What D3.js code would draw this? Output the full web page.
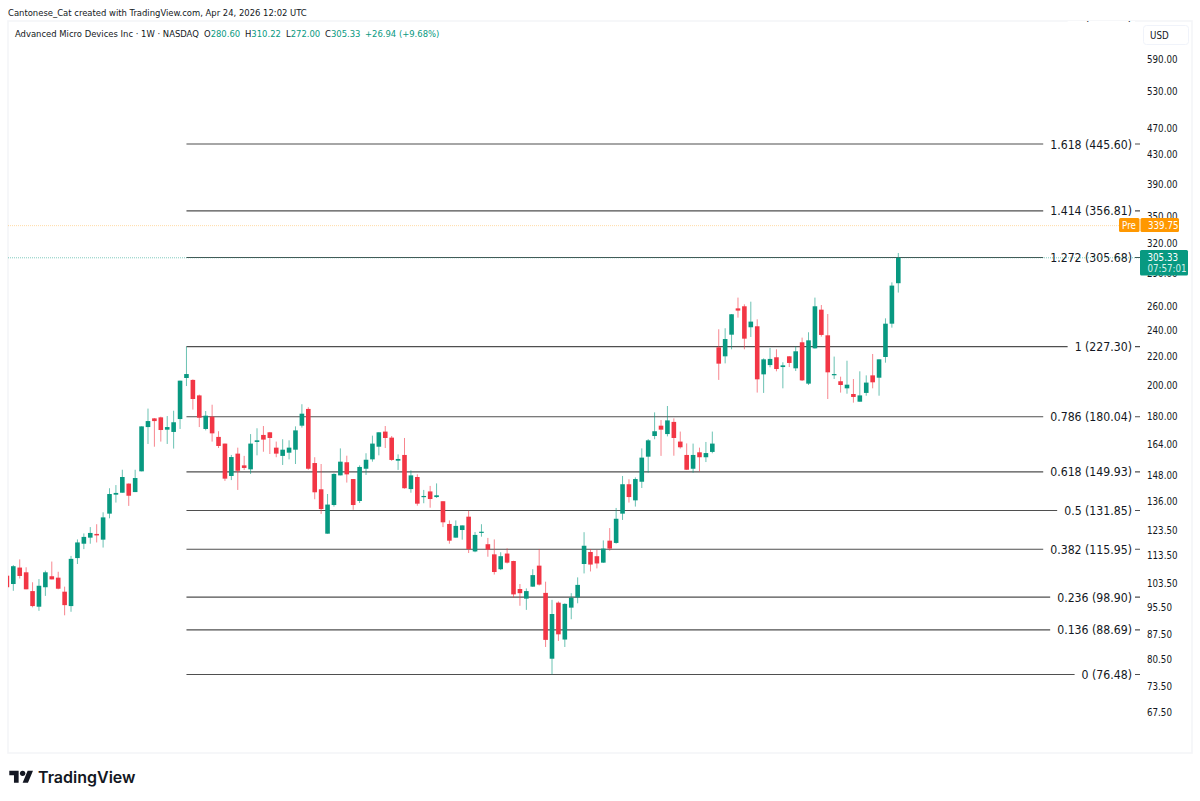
<!DOCTYPE html>
<html>
<head>
<meta charset="utf-8">
<script src="https://cdn.jsdelivr.net/npm/d3@7"></script>
<style>
  html, body { margin: 0; background: #fff; }
  svg { display: block; }
  text { font-family: 'DejaVu Sans Condensed', 'DejaVu Sans', sans-serif; fill: #131722; }
</style>
</head>
<body>
<svg id="chart" width="1200" height="801"></svg>
<script>
// weekly candles, AMD
var opens = [
106.2, 103.3, 109.1, 107.4, 100.9, 95.8, 102.2, 106.0, 105.5, 100.7, 96.0, 112.6, 118.1, 120.5, 122.0, 119.7, 130.5, 139.0, 139.9, 144.2,
140.2, 150.2, 174.0, 179.1, 179.7, 172.5, 171.2, 178.7, 204.8, 203.5, 193.3, 172.9, 180.1, 168.4, 164.7, 147.9, 159.3, 153.2, 151.2, 165.6,
169.5, 171.0, 162.5, 158.1, 159.8, 161.4, 174.8, 184.8, 154.4, 141.5, 122.1, 134.3, 148.2, 154.8, 146.4, 136.1, 151.5, 156.3, 163.0, 171.4,
168.0, 155.6, 158.6, 141.6, 147.4, 137.9, 140.5, 137.9, 136.0, 126.1, 120.5, 123.6, 129.2, 115.1, 122.5, 117.9, 114.0, 108.5, 114.3, 111.5,
101.6, 98.4, 102.4, 109.8, 100.3, 80.6, 97.1, 85.9, 95.5, 98.8, 110.4, 114.9, 113.3, 110.9, 119.3, 118.4, 130.5, 143.9, 136.4, 145.1,
157.7, 168.9, 174.8, 170.0, 177.0, 165.8, 158.6, 151.5, 160.0, 157.4, 160.2, 226.8, 220.1, 236.5, 258.1, 259.9, 242.4, 243.2, 207.3, 213.8,
219.4, 212.4, 220.1, 211.5, 230.6, 201.0, 226.0, 257.0, 236.0, 206.9, 202.6, 197.9, 194.2, 189.3, 194.9, 206.6, 205.0, 219.6, 245.3, 280.6
];
var highs = [
106.2, 110.0, 112.1, 109.2, 103.9, 105.0, 108.0, 111.3, 107.6, 102.4, 113.4, 119.8, 122.2, 124.8, 126.0, 131.1, 142.0, 143.5, 151.0, 144.3,
151.0, 174.4, 185.0, 179.3, 180.1, 180.5, 183.7, 203.0, 227.3, 203.9, 193.8, 183.5, 187.4, 171.6, 164.7, 158.6, 162.5, 158.1, 170.0, 173.3,
174.6, 171.2, 165.8, 167.1, 166.5, 174.4, 187.7, 185.8, 157.4, 153.9, 139.3, 149.2, 162.1, 158.2, 146.4, 153.2, 159.5, 169.1, 171.0, 174.6,
168.9, 158.9, 167.8, 150.7, 148.7, 141.2, 143.1, 144.3, 136.0, 127.6, 127.6, 125.5, 131.8, 122.8, 126.0, 120.4, 119.8, 114.8, 116.3, 111.6,
103.3, 101.8, 108.5, 116.0, 104.1, 98.0, 97.5, 96.9, 100.2, 105.6, 122.7, 116.0, 115.7, 119.4, 124.4, 133.0, 147.9, 146.3, 147.2, 162.1,
167.2, 182.7, 178.1, 186.6, 179.1, 171.4, 164.8, 164.7, 162.5, 165.6, 171.4, 240.8, 241.6, 253.3, 267.5, 261.6, 263.9, 248.9, 218.6, 226.3,
225.3, 215.8, 220.3, 227.5, 234.2, 238.4, 267.5, 261.0, 253.3, 219.9, 205.7, 216.9, 204.1, 209.4, 206.6, 221.8, 217.9, 249.7, 281.4, 310.22
];
var lows = [
102.2, 101.0, 105.2, 101.5, 95.6, 94.5, 99.3, 104.9, 101.5, 93.1, 94.2, 110.4, 116.0, 118.1, 118.6, 116.6, 128.5, 135.4, 139.9, 133.9,
140.2, 150.2, 164.5, 163.0, 165.8, 164.5, 162.0, 172.9, 199.4, 184.4, 174.0, 172.1, 165.8, 162.3, 145.5, 145.9, 141.2, 150.9, 148.9, 158.4,
160.3, 159.1, 157.4, 153.4, 156.3, 153.9, 173.7, 151.0, 136.9, 130.4, 122.1, 133.6, 148.2, 144.7, 132.2, 135.2, 148.4, 155.1, 158.4, 162.3,
155.5, 150.9, 141.8, 139.9, 134.0, 135.1, 133.1, 137.5, 124.8, 118.1, 120.5, 119.7, 114.5, 114.8, 120.9, 113.1, 106.6, 108.2, 110.6, 98.7,
96.1, 94.8, 102.3, 102.8, 83.8, 76.48, 85.5, 83.8, 91.9, 96.9, 107.0, 107.7, 108.8, 110.8, 115.4, 118.1, 127.8, 135.4, 133.6, 142.1,
149.5, 167.1, 158.1, 168.7, 158.2, 162.0, 150.9, 149.5, 150.2, 154.9, 159.5, 203.5, 215.0, 225.3, 250.3, 225.3, 234.7, 195.1, 194.9, 212.2,
209.4, 197.9, 212.4, 209.6, 202.8, 200.1, 225.8, 235.0, 191.0, 204.1, 195.1, 194.4, 188.7, 189.3, 193.1, 197.9, 193.1, 215.5, 242.1, 272.0
];
var closes = [
102.2, 109.6, 106.1, 101.5, 96.0, 102.7, 107.4, 104.9, 101.7, 96.3, 112.3, 118.6, 120.8, 122.4, 121.4, 128.9, 139.3, 139.8, 147.4, 138.5,
146.9, 174.4, 177.5, 177.5, 172.3, 174.0, 176.8, 203.0, 207.5, 191.0, 179.5, 180.7, 170.4, 163.4, 146.6, 157.5, 150.5, 151.9, 164.7, 166.5,
166.9, 167.8, 159.3, 161.4, 162.5, 172.1, 181.9, 151.5, 140.1, 132.5, 134.5, 148.9, 155.1, 148.7, 134.3, 152.4, 156.1, 164.7, 171.0, 167.8,
156.0, 156.5, 142.0, 148.2, 134.9, 138.4, 137.0, 138.7, 126.8, 119.3, 125.3, 125.5, 116.0, 121.6, 122.9, 115.8, 107.5, 113.3, 110.9, 99.8,
100.2, 100.9, 106.4, 103.1, 85.8, 93.5, 87.4, 96.7, 98.7, 103.0, 117.3, 110.2, 110.6, 116.2, 116.2, 128.3, 143.9, 137.9, 146.4, 157.2,
166.5, 171.6, 172.5, 177.9, 167.8, 162.7, 151.0, 158.6, 157.4, 159.6, 164.7, 214.8, 233.1, 253.1, 256.2, 233.4, 247.0, 203.9, 217.9, 218.2,
211.0, 213.6, 215.3, 223.8, 203.2, 232.1, 259.9, 236.3, 208.7, 207.5, 200.1, 200.3, 192.3, 193.3, 201.7, 201.9, 217.9, 245.3, 278.39, 305.33
];

var fibLevels = ['2', '1.618', '1.414', '1.272', '1', '0.786', '0.618', '0.5', '0.382', '0.236', '0.136', '0'];
var fibPrices = [675.53, 445.60, 356.81, 305.68, 227.30, 180.04, 149.93, 131.85, 115.95, 98.90, 88.69, 76.48];

var priceTicks = [590, 530, 470, 430, 390, 350, 320, 290, 260, 240, 220, 200, 180, 164, 148, 136, 123.5, 113.5, 103.5, 95.5, 87.5, 80.5, 73.5, 67.5];

// candle index of the first week of each labelled month
var timeTicks = [2, 11, 19, 28, 37, 45, 54, 63, 72, 80, 89, 98, 106, 115, 124, 132, 141, 150, 159, 167, 176];
var timeLabels = ['Sep', 'Nov', '2024', 'Mar', 'May', 'Jul', 'Sep', 'Nov', '2025', 'Mar', 'May', 'Jul', 'Sep', 'Nov', '2026', 'Mar', 'May', 'Jul', 'Sep', 'Nov', '2027'];

var legendValues = ['280.60', '310.22', '272.00', '305.33'];
var preMarket = 339.75;
var lastClose = 305.33;
var fibStart = 28;

var UP = '#089981', DOWN = '#f23645', ORANGE = '#ff9800', INK = '#131722', SMALL = '9.7px';

var svg = d3.select('#chart');

var x = d3.scaleLinear().domain([0, 139]).range([6.9, 898.3]);
var y = d3.scaleLog().domain([76.48, 445.60]).range([674.5, 144]);

var defs = svg.append('defs');
defs.append('clipPath').attr('id', 'pane').append('rect')
  .attr('x', 8).attr('y', 21).attr('width', 1184).attr('height', 732);
defs.append('clipPath').attr('id', 'timeClip').append('rect')
  .attr('x', 8).attr('y', 730).attr('width', 1131).attr('height', 23);

// pane frame
svg.append('rect').attr('x', 8).attr('y', 21).attr('width', 1184).attr('height', 732)
  .attr('fill', 'none').attr('stroke', '#f4f5f8').attr('stroke-width', 1.6);

// price axis
var yAxis = d3.axisRight(y).tickValues(priceTicks).tickSize(0).tickPadding(0)
  .tickFormat(function(d) { return d.toFixed(2); });
var gy = svg.append('g').attr('transform', 'translate(1147,0)').call(yAxis);
gy.select('.domain').remove();
gy.selectAll('text').style('font-size', SMALL).style('font-family', null).attr('fill', null);

// time axis
var xAxis = d3.axisBottom(x).tickValues(timeTicks).tickSize(0).tickPadding(0)
  .tickFormat(function(d, i) { return timeLabels[i]; });
var gx = svg.append('g').attr('transform', 'translate(0,736)').attr('clip-path', 'url(#timeClip)').call(xAxis);
gx.select('.domain').remove();
gx.selectAll('text').style('font-size', SMALL).style('font-family', null).attr('fill', null)
  .style('font-weight', function(d, i) { return /^\d/.test(timeLabels[i]) ? 'bold' : 'normal'; });

var pane = svg.append('g').attr('clip-path', 'url(#pane)');

// fib lines
pane.selectAll('.fib').data(fibPrices).enter().append('line')
  .attr('class', 'fib')
  .attr('x1', x(fibStart)).attr('x2', 1140)
  .attr('y1', function(d) { return y(d); }).attr('y2', function(d) { return y(d); })
  .attr('stroke', '#4f4f4f').attr('stroke-width', 1.1);

// candles
var candles = pane.selectAll('.candle').data(opens).enter().append('g').attr('class', 'candle');
candles.append('line')
  .attr('x1', function(d, i) { return x(i); }).attr('x2', function(d, i) { return x(i); })
  .attr('y1', function(d, i) { return y(highs[i]); }).attr('y2', function(d, i) { return y(lows[i]); })
  .attr('stroke', function(d, i) { return closes[i] >= d ? UP : DOWN; })
  .attr('stroke-opacity', 0.6).attr('stroke-width', 1);
candles.append('rect')
  .attr('x', function(d, i) { return x(i) - 2.3; }).attr('width', 4.6)
  .attr('y', function(d, i) { return y(Math.max(d, closes[i])); })
  .attr('height', function(d, i) { return Math.max(1.2, Math.abs(y(d) - y(closes[i]))); })
  .attr('fill', function(d, i) { return closes[i] >= d ? UP : DOWN; });

// fib labels, the top one sits mostly above the pane
var fibLabels = pane.selectAll('.fibLabel').data(fibPrices).enter().append('g').attr('class', 'fibLabel');
fibLabels.append('text')
  .attr('x', 1132).attr('y', function(d, i) { return y(d) + (i == 0 ? 2 : 4.5); })
  .attr('text-anchor', 'end').style('font-size', '12.2px').attr('fill', '#000')
  .text(function(d, i) { return fibLevels[i] + ' (' + d.toFixed(2) + ')'; })
  .each(function() {
    var b = this.getBBox();
    d3.select(this.parentNode).insert('rect', 'text')
      .attr('x', b.x - 7).attr('y', b.y).attr('width', b.width + 10).attr('height', b.height).attr('fill', '#fff');
  });

// price lines of premarket and last close
pane.append('line').attr('x1', 8).attr('x2', 1119)
  .attr('y1', y(preMarket)).attr('y2', y(preMarket))
  .attr('stroke', ORANGE).attr('stroke-opacity', 0.35).attr('stroke-dasharray', '1 1');
pane.append('line').attr('x1', 8).attr('x2', 1140)
  .attr('y1', y(lastClose)).attr('y2', y(lastClose))
  .attr('stroke', UP).attr('stroke-opacity', 0.5).attr('stroke-dasharray', '1 1');

// price badges
svg.append('rect').attr('x', 1119).attr('y', 218).attr('width', 20.5).attr('height', 14).attr('rx', 1.5).attr('fill', ORANGE);
svg.append('rect').attr('x', 1140.5).attr('y', 218).attr('width', 38.5).attr('height', 14).attr('rx', 1.5).attr('fill', ORANGE);
svg.append('text').attr('x', 1129).attr('y', 228.8).attr('text-anchor', 'middle').style('font-size', SMALL).style('fill', '#fff').text('Pre');
svg.append('text').attr('x', 1148).attr('y', 228.8).style('font-size', SMALL).style('fill', '#fff').text(preMarket.toFixed(2));
svg.append('rect').attr('x', 1140).attr('y', 250).attr('width', 48).attr('height', 25.5).attr('rx', 1.5).attr('fill', UP);
svg.append('text').attr('x', 1147.5).attr('y', 261).style('font-size', SMALL).style('fill', '#fff').text(lastClose.toFixed(2));
svg.append('text').attr('x', 1147.5).attr('y', 272).style('font-size', SMALL).style('fill', '#d5f0ea').text('07:57:01');

// currency box
svg.append('rect').attr('x', 1143.5).attr('y', 25.5).attr('width', 45).attr('height', 19).attr('rx', 3)
  .attr('fill', '#fff').attr('stroke', '#f0f3fa');
svg.append('text').attr('x', 1150).attr('y', 38.5).style('font-size', SMALL).text('USD');

// header
svg.append('text').attr('x', 8).attr('y', 15.5).style('font-size', '9.4px').text('Cantonese_Cat created with TradingView.com, Apr 24, 2026 12:02 UTC');
svg.append('text').attr('x', 15).attr('y', 37).style('font-size', '9.4px').text('Advanced Micro Devices Inc · 1W · NASDAQ');
var legendX = [204, 245, 286, 325];
['O', 'H', 'L', 'C'].forEach(function(k, i) {
  var t = svg.append('text').attr('x', legendX[i]).attr('y', 37).style('font-size', '9.4px');
  t.append('tspan').text(k);
  t.append('tspan').style('fill', UP).text(legendValues[i]);
});
svg.append('text').attr('x', 365).attr('y', 37).style('font-size', '9.4px').style('fill', UP).text('+26.94 (+9.68%)');

// footer logo
svg.append('path').attr('transform', 'translate(9.3,768) scale(0.667)').attr('fill', INK)
  .attr('d', 'M14 22H7V11H0V4h14v18zM28 22h-8l7.5-18h8L28 22z');
svg.append('circle').attr('transform', 'translate(9.3,768) scale(0.667)').attr('cx', 20).attr('cy', 8).attr('r', 4).attr('fill', INK);
svg.append('text').attr('x', 38).attr('y', 783).style('font-family', 'Inter, sans-serif').style('font-weight', 600).style('font-size', '16px').text('TradingView');
</script>
</body>
</html>
